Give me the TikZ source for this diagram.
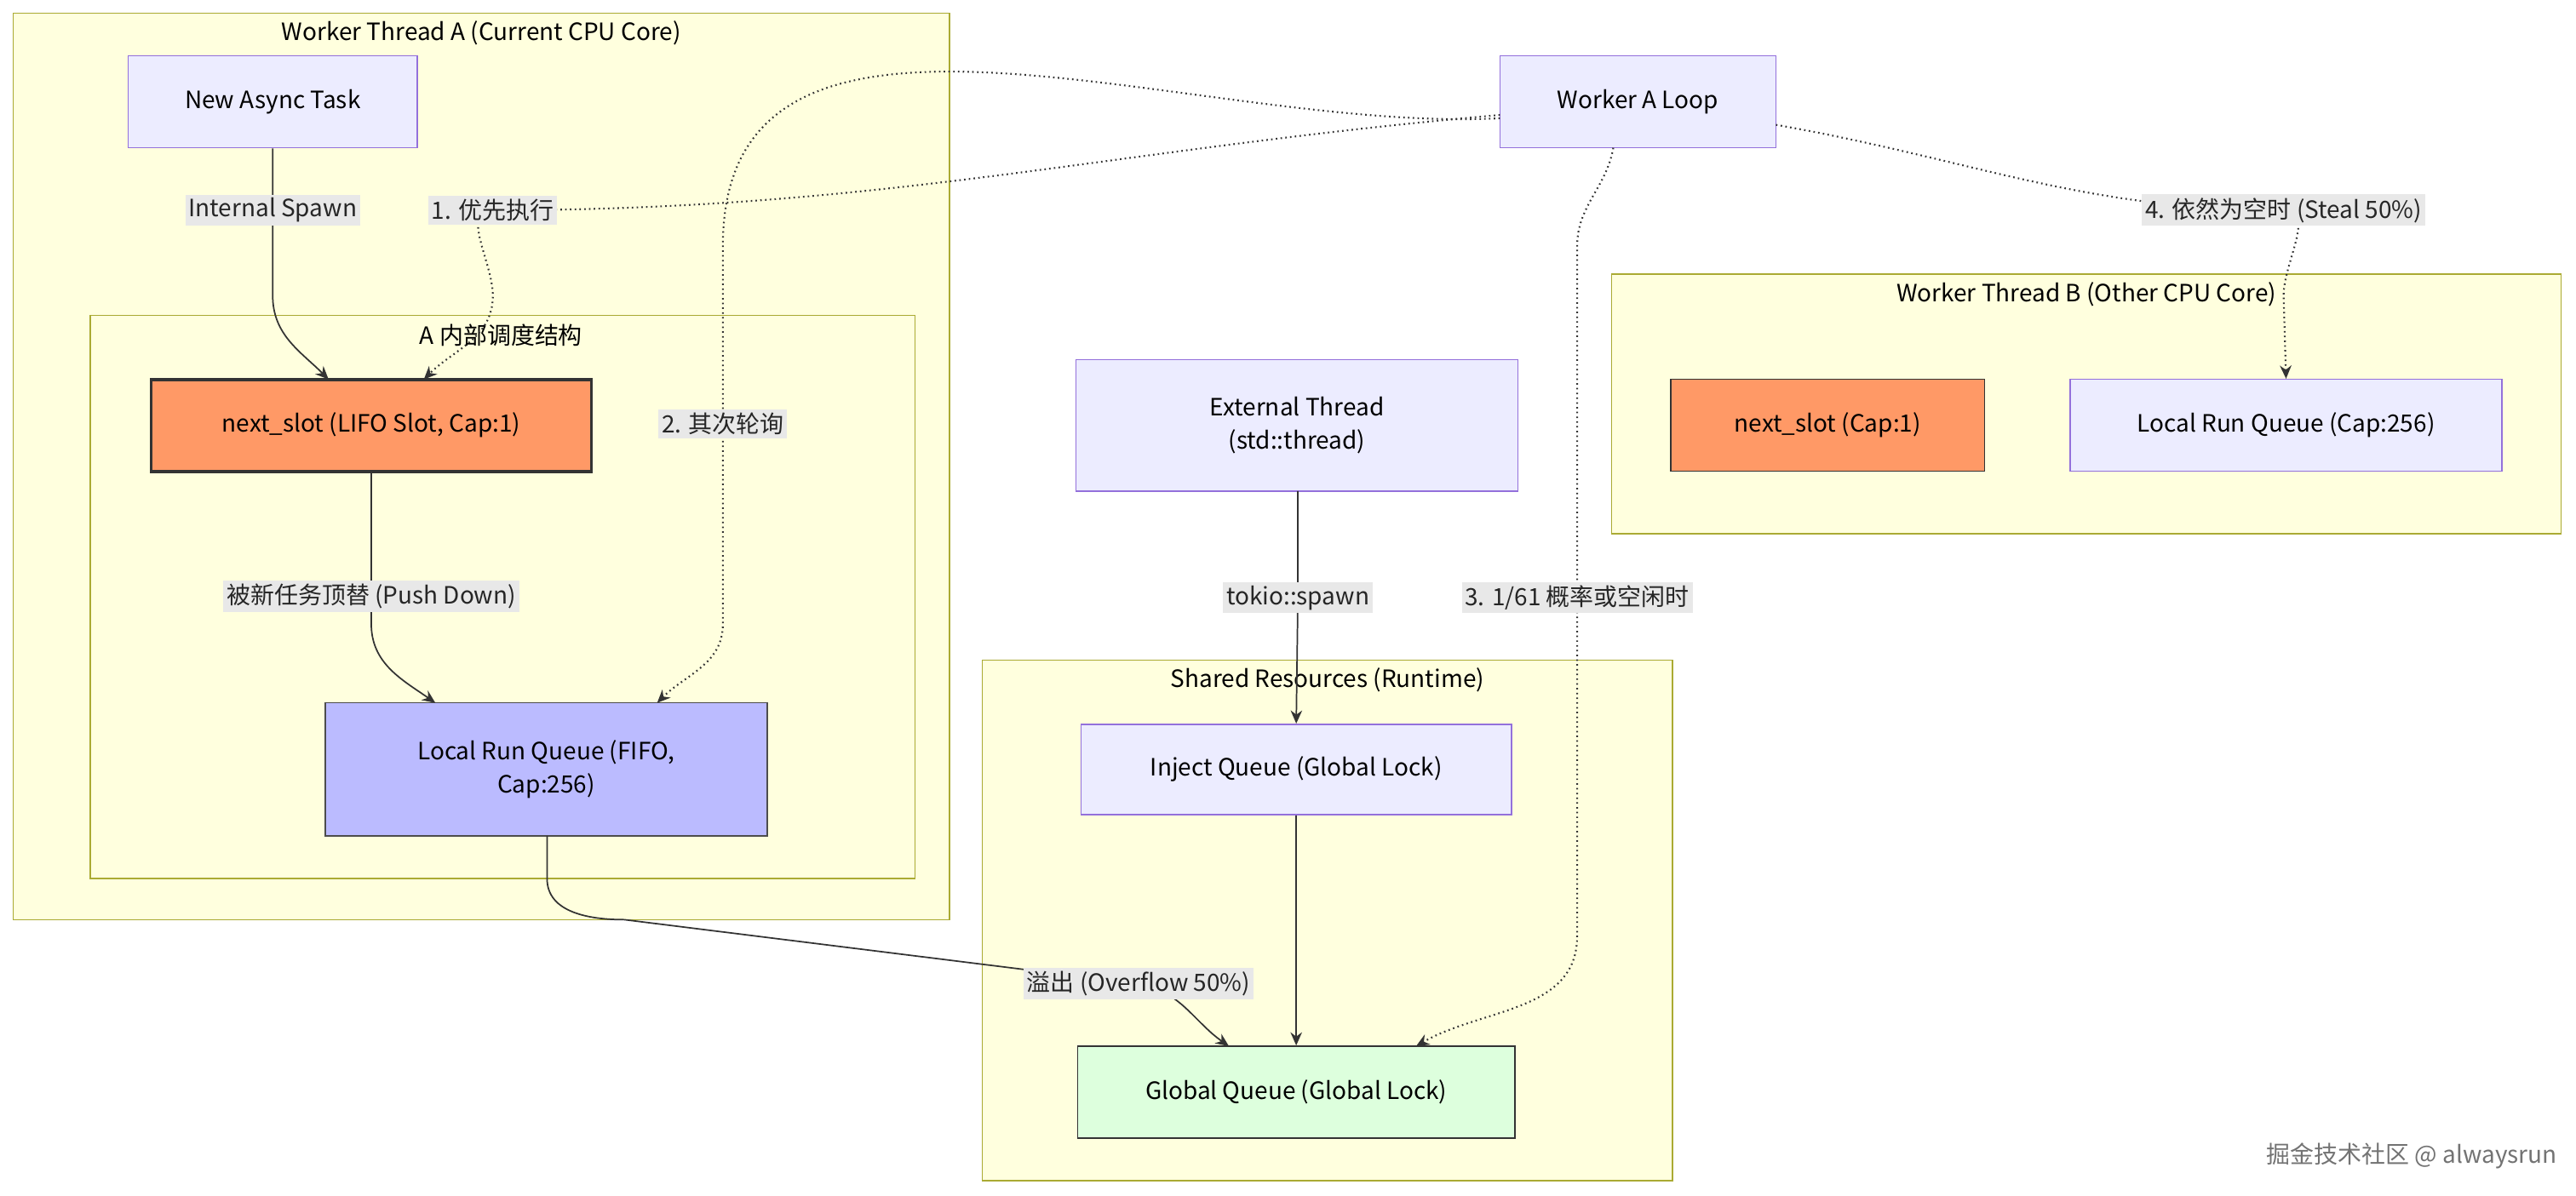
\documentclass[tikz,border=0pt]{standalone}
\usepackage{fontspec}
\setmainfont{Noto Sans CJK SC}
\usetikzlibrary{arrows.meta}
\definecolor{nf}{HTML}{ECECFF}\definecolor{nb}{HTML}{9370DB}
\definecolor{cf}{HTML}{FFFFDE}\definecolor{cb}{HTML}{AAAA33}
\definecolor{lb}{HTML}{E8E8E8}
\begin{document}
\begin{tikzpicture}[x=1pt,y=-1pt,font=\fontsize{14.5}{20}\selectfont,
 clu/.style={draw=cb,fill=cf,line width=0.8pt},
 box/.style={draw=nb,fill=nf,line width=0.8pt,align=center,inner sep=0pt},
 lab/.style={fill=lb,inner sep=2pt,text=black!85},
 ed/.style={draw=black!80,line width=0.9pt,-{Stealth[length=8pt,width=7pt]}},
 dt/.style={ed,dotted,line width=1.1pt}]
\useasboundingbox (0,0) rectangle (1568,728);
\fill[white] (0,0) rectangle (1568,728);
% clusters
\draw[clu] (8,8) rectangle (578,560);
\node (ta) at (293,20) {Worker Thread A (Current CPU Core)};
\draw[clu] (55,192) rectangle (557,535);
\node (tai) at (305,204) {A 内部调度结构};
\draw[clu] (981,167) rectangle (1559,325);
\node (tb) at (1270,179) {Worker Thread B (Other CPU Core)};
\draw[clu] (598,402) rectangle (1018,719);
\node (ts) at (808,414) {Shared Resources (Runtime)};
% nodes
\node[box,minimum width=176,minimum height=56] (nat) at (166,62) {New Async Task};
\node[box,fill={rgb,255:red,255;green,153;blue,102},draw=black!80,line width=2pt,minimum width=268,minimum height=56] (ns) at (226,259) {next\_slot (LIFO Slot, Cap:1)};
\node[box,fill={rgb,255:red,187;green,187;blue,255},draw=black!70,minimum width=269,minimum height=81] (lrq) at (332.5,468.5) {Local Run Queue (FIFO,\\Cap:256)};
\node[box,minimum width=168,minimum height=56] (wal) at (997,62) {Worker A Loop};
\node[box,fill={rgb,255:red,255;green,153;blue,102},draw=black!80,minimum width=191,minimum height=56] (nsb) at (1112.5,259) {next\_slot (Cap:1)};
\node[box,minimum width=263,minimum height=56] (lrqb) at (1391.5,259) {Local Run Queue (Cap:256)};
\node[box,minimum width=269,minimum height=80] (ext) at (789.5,259) {External Thread\\(std::thread)};
\node[box,minimum width=262,minimum height=55] (inj) at (789,468.5) {Inject Queue (Global Lock)};
\node[box,fill={rgb,255:red,221;green,255;blue,221},draw=black!80,minimum width=266,minimum height=56] (gq) at (789,665) {Global Queue (Global Lock)};
% label positions
\coordinate (l0) at (166,128);
\coordinate (l1) at (300,128);
\coordinate (l2) at (440,258);
\coordinate (l3) at (960,364);
\coordinate (l4) at (1390,128);
\coordinate (l5) at (226,363);
\coordinate (l6) at (790,364);
\coordinate (l7) at (693,599);
% edges
\draw[ed] (nat.south) -- (l0) -- (166,180) to[out=-90,in=135] (200,231);
\draw[dt] (913,70) to[out=185,in=0] (l1) to[out=180,in=90] (300,180) to[out=-90,in=45] (258,231);
\draw[dt] (913,72) to[out=183,in=90] (440,150) -- (l2) -- (440,380) to[out=-90,in=45] (400,428);
\draw[dt] (982,90) to[out=-100,in=90] (960,150) -- (l3) -- (960,570) to[out=-90,in=30] (862,637);
\draw[dt] (1081,76) to[out=-10,in=180] (l4) to[out=0,in=90] (1390,180) -- (lrqb.north);
\draw[ed] (226,287) -- (l5) -- (226,380) to[out=-90,in=145] (265,428);
\draw[ed] (790,299) -- (l6) -- (inj.north);
\draw[ed] (inj.south) -- (gq.north);
\draw[ed] (333,509) -- (333,535) to[out=-90,in=180] (380,560) -- (l7) to[out=-10,in=145] (748,637);
% labels
\node[lab] (n0) at (l0) {Internal Spawn};
\node[lab] (n1) at (l1) {1. 优先执行};
\node[lab] (n2) at (l2) {2. 其次轮询};
\node[lab] (n3) at (l3) {3. 1/61 概率或空闲时};
\node[lab] (n4) at (l4) {4. 依然为空时 (Steal 50\%)};
\node[lab] (n5) at (l5) {被新任务顶替 (Push Down)};
\node[lab] (n6) at (l6) {tokio::spawn};
\node[lab] (n7) at (l7) {溢出 (Overflow 50\%)};
\node[text=black!55,anchor=east] (wm) at (1560,704) {掘金技术社区 @ alwaysrun};
\end{tikzpicture}
\end{document}
